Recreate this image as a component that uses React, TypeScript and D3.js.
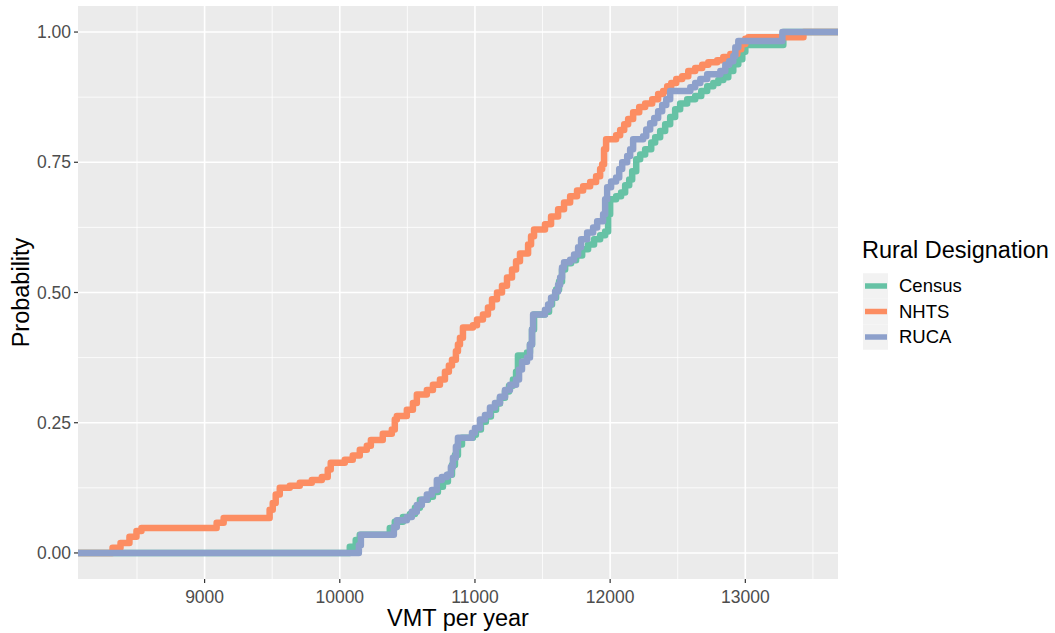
import React, { useRef, useEffect } from "react";
import * as d3 from "d3";

// ECDF break points: VMT where the step happens, probability after it
const censusVmt = [10074, 10118, 10148, 10370, 10407, 10467, 10519, 10556, 10593, 10652, 10689, 10726, 10763, 10800, 10830, 10852, 10874, 10904, 10985, 11007, 11044, 11081, 11118, 11156, 11185, 11222, 11252, 11281, 11304, 11318, 11385, 11407, 11422, 11437, 11518, 11548, 11570, 11600, 11622, 11644, 11667, 11711, 11748, 11793, 11837, 11881, 11926, 11963, 11985, 12000, 12044, 12081, 12111, 12141, 12163, 12193, 12222, 12259, 12304, 12333, 12370, 12407, 12444, 12481, 12518, 12570, 12629, 12674, 12718, 12763, 12800, 12837, 12874, 12911, 12948, 12978, 13000, 13281];
const censusProb = [0.012, 0.025, 0.035, 0.048, 0.06, 0.069, 0.075, 0.087, 0.102, 0.108, 0.117, 0.127, 0.137, 0.15, 0.169, 0.188, 0.208, 0.221, 0.227, 0.237, 0.252, 0.262, 0.275, 0.287, 0.298, 0.31, 0.321, 0.333, 0.348, 0.379, 0.385, 0.4, 0.429, 0.458, 0.463, 0.477, 0.49, 0.506, 0.521, 0.544, 0.556, 0.562, 0.571, 0.583, 0.592, 0.602, 0.61, 0.617, 0.65, 0.679, 0.685, 0.692, 0.706, 0.717, 0.733, 0.756, 0.765, 0.775, 0.788, 0.798, 0.81, 0.823, 0.837, 0.852, 0.863, 0.871, 0.877, 0.887, 0.896, 0.902, 0.908, 0.913, 0.925, 0.938, 0.948, 0.962, 0.975, 1];

const nhtsVmt = [8319, 8378, 8444, 8496, 8533, 9089, 9141, 9481, 9504, 9526, 9556, 9630, 9704, 9793, 9867, 9911, 9933, 10037, 10096, 10148, 10200, 10230, 10318, 10385, 10407, 10422, 10496, 10541, 10570, 10644, 10689, 10741, 10778, 10807, 10830, 10859, 10874, 10889, 10911, 10985, 11015, 11059, 11096, 11126, 11163, 11200, 11237, 11274, 11304, 11333, 11393, 11415, 11437, 11518, 11563, 11615, 11659, 11704, 11755, 11800, 11852, 11896, 11926, 11941, 11955, 11970, 12044, 12074, 12104, 12133, 12170, 12215, 12259, 12311, 12355, 12392, 12422, 12452, 12489, 12533, 12578, 12629, 12681, 12726, 12792, 12837, 12889, 12941, 12970, 13000, 13022, 13430];
const nhtsProb = [0.01, 0.019, 0.031, 0.042, 0.048, 0.058, 0.067, 0.083, 0.096, 0.112, 0.125, 0.129, 0.135, 0.14, 0.146, 0.16, 0.173, 0.179, 0.187, 0.198, 0.206, 0.217, 0.229, 0.237, 0.256, 0.263, 0.275, 0.288, 0.304, 0.313, 0.323, 0.333, 0.348, 0.36, 0.371, 0.387, 0.4, 0.413, 0.433, 0.437, 0.448, 0.458, 0.471, 0.487, 0.5, 0.513, 0.529, 0.544, 0.56, 0.575, 0.592, 0.608, 0.621, 0.631, 0.646, 0.66, 0.673, 0.685, 0.696, 0.704, 0.712, 0.723, 0.737, 0.746, 0.775, 0.794, 0.802, 0.812, 0.823, 0.833, 0.846, 0.856, 0.863, 0.871, 0.881, 0.887, 0.896, 0.902, 0.91, 0.915, 0.925, 0.931, 0.937, 0.942, 0.946, 0.952, 0.958, 0.967, 0.977, 0.987, 0.99, 1];

const rucaVmt = [10141, 10156, 10400, 10422, 10496, 10533, 10570, 10607, 10644, 10681, 10718, 10755, 10793, 10822, 10837, 10859, 10874, 10978, 11000, 11037, 11074, 11111, 11148, 11185, 11222, 11259, 11304, 11326, 11348, 11385, 11407, 11422, 11430, 11518, 11541, 11563, 11593, 11615, 11630, 11644, 11659, 11704, 11733, 11763, 11785, 11830, 11874, 11904, 11948, 11963, 11978, 12007, 12044, 12067, 12089, 12126, 12148, 12170, 12244, 12267, 12296, 12326, 12355, 12385, 12415, 12444, 12593, 12629, 12667, 12718, 12815, 12852, 12881, 12911, 12926, 12948, 13274];
const rucaProb = [0.015, 0.035, 0.05, 0.063, 0.069, 0.079, 0.092, 0.102, 0.112, 0.121, 0.14, 0.146, 0.15, 0.165, 0.183, 0.204, 0.221, 0.231, 0.24, 0.256, 0.265, 0.279, 0.288, 0.3, 0.313, 0.323, 0.333, 0.352, 0.367, 0.375, 0.4, 0.429, 0.458, 0.467, 0.477, 0.49, 0.502, 0.515, 0.529, 0.548, 0.558, 0.563, 0.573, 0.587, 0.602, 0.615, 0.625, 0.637, 0.65, 0.679, 0.702, 0.713, 0.721, 0.737, 0.75, 0.762, 0.775, 0.794, 0.8, 0.813, 0.825, 0.835, 0.848, 0.86, 0.871, 0.887, 0.894, 0.902, 0.91, 0.919, 0.925, 0.937, 0.944, 0.954, 0.971, 0.983, 1];

const seriesNames = ["Census", "NHTS", "RUCA"];
const seriesColors = ["#66C2A5", "#FC8D62", "#8DA0CB"];
const xTicks = [9000, 10000, 11000, 12000, 13000];
const xMinor = [8500, 9500, 10500, 11500, 12500, 13500];
const yTicks = [0, 0.25, 0.5, 0.75, 1];
const yMinor = [0.125, 0.375, 0.625, 0.875];

const App = () => {
  const svgRef = useRef(null);

  useEffect(() => {
    const svg = d3.select(svgRef.current);
    svg.selectAll("*").remove();

    const panel = { left: 78, top: 6, width: 760, height: 573 };
    const font = "'Liberation Sans', Arial, sans-serif";

    const series = [
      { vmt: censusVmt, prob: censusProb },
      { vmt: nhtsVmt, prob: nhtsProb },
      { vmt: rucaVmt, prob: rucaProb },
    ];

    const allVmt = series.flatMap((s) => s.vmt);
    const lo = d3.min(allVmt);
    const hi = d3.max(allVmt);
    const pad = (hi - lo) * 0.05;

    const x = d3
      .scaleLinear()
      .domain([lo - pad, hi + pad])
      .range([panel.left, panel.left + panel.width]);
    const y = d3
      .scaleLinear()
      .domain([-0.05, 1.05])
      .range([panel.top + panel.height, panel.top]);

    svg
      .append("rect")
      .attr("x", panel.left)
      .attr("y", panel.top)
      .attr("width", panel.width)
      .attr("height", panel.height)
      .attr("fill", "#EBEBEB");

    // grid
    const grid = svg.append("g").attr("stroke", "#fff");
    xMinor.forEach((v) => {
      if (x(v) > panel.left + panel.width) return;
      grid.append("line").attr("x1", x(v)).attr("x2", x(v))
        .attr("y1", panel.top).attr("y2", panel.top + panel.height)
        .attr("stroke-width", 0.8);
    });
    yMinor.forEach((v) => {
      grid.append("line").attr("y1", y(v)).attr("y2", y(v))
        .attr("x1", panel.left).attr("x2", panel.left + panel.width)
        .attr("stroke-width", 0.8);
    });
    xTicks.forEach((v) => {
      grid.append("line").attr("x1", x(v)).attr("x2", x(v))
        .attr("y1", panel.top).attr("y2", panel.top + panel.height)
        .attr("stroke-width", 1.6);
    });
    yTicks.forEach((v) => {
      grid.append("line").attr("y1", y(v)).attr("y2", y(v))
        .attr("x1", panel.left).attr("x2", panel.left + panel.width)
        .attr("stroke-width", 1.6);
    });

    // ecdf lines
    svg.append("clipPath").attr("id", "panel-clip")
      .append("rect")
      .attr("x", panel.left).attr("y", panel.top)
      .attr("width", panel.width).attr("height", panel.height);

    const line = d3
      .line()
      .x((d) => x(d[0]))
      .y((d) => y(d[1]))
      .curve(d3.curveStepAfter);

    const [xMin, xMax] = x.domain();
    series.forEach((s, i) => {
      const pts = [[xMin, 0], ...s.vmt.map((v, j) => [v, s.prob[j]]), [xMax, 1]];
      svg
        .append("path")
        .attr("d", line(pts))
        .attr("fill", "none")
        .attr("stroke", seriesColors[i])
        .attr("stroke-width", 6.5)
        .attr("stroke-linejoin", "round")
        .attr("clip-path", "url(#panel-clip)");
    });

    // axes
    const xAxis = svg.append("g");
    xTicks.forEach((v) => {
      xAxis.append("line").attr("x1", x(v)).attr("x2", x(v))
        .attr("y1", panel.top + panel.height).attr("y2", panel.top + panel.height + 4)
        .attr("stroke", "#333").attr("stroke-width", 1.2);
      xAxis.append("text").attr("x", x(v)).attr("y", panel.top + panel.height + 24)
        .attr("text-anchor", "middle").attr("font-family", font)
        .attr("font-size", 17.5).attr("fill", "#4D4D4D").text(v);
    });
    const yAxis = svg.append("g");
    yTicks.forEach((v) => {
      yAxis.append("line").attr("x1", panel.left - 4).attr("x2", panel.left)
        .attr("y1", y(v)).attr("y2", y(v))
        .attr("stroke", "#333").attr("stroke-width", 1.2);
      yAxis.append("text").attr("x", panel.left - 7).attr("y", y(v))
        .attr("dy", "0.35em").attr("text-anchor", "end").attr("font-family", font)
        .attr("font-size", 17.5).attr("fill", "#4D4D4D").text(d3.format(".2f")(v));
    });

    svg.append("text")
      .attr("x", panel.left + panel.width / 2).attr("y", 626)
      .attr("text-anchor", "middle").attr("font-family", font)
      .attr("font-size", 23.5).attr("fill", "#000").text("VMT per year");
    svg.append("text")
      .attr("transform", `translate(29, ${panel.top + panel.height / 2}) rotate(-90)`)
      .attr("text-anchor", "middle").attr("font-family", font)
      .attr("font-size", 23.5).attr("fill", "#000").text("Probability");

    // legend
    const lg = svg.append("g").attr("transform", "translate(862, 0)");
    lg.append("text").attr("x", 0).attr("y", 258).attr("font-family", font)
      .attr("font-size", 23.5).attr("fill", "#000").text("Rural Designation");
    seriesNames.forEach((name, i) => {
      const cy = 286 + i * 25.5;
      lg.append("rect").attr("x", 1).attr("y", cy - 12.75)
        .attr("width", 25).attr("height", 25.5).attr("fill", "#F2F2F2");
      lg.append("line").attr("x1", 3).attr("x2", 25).attr("y1", cy).attr("y2", cy)
        .attr("stroke", seriesColors[i]).attr("stroke-width", 5.5);
      lg.append("text").attr("x", 37).attr("y", cy).attr("dy", "0.35em")
        .attr("font-family", font).attr("font-size", 18.5).attr("fill", "#000").text(name);
    });
  }, []);

  return (
    <svg
      ref={svgRef}
      width={1055}
      height={633}
      style={{ position: "absolute", left: 0, top: 0, background: "#fff" }}
    ></svg>
  );
};

export default App;
